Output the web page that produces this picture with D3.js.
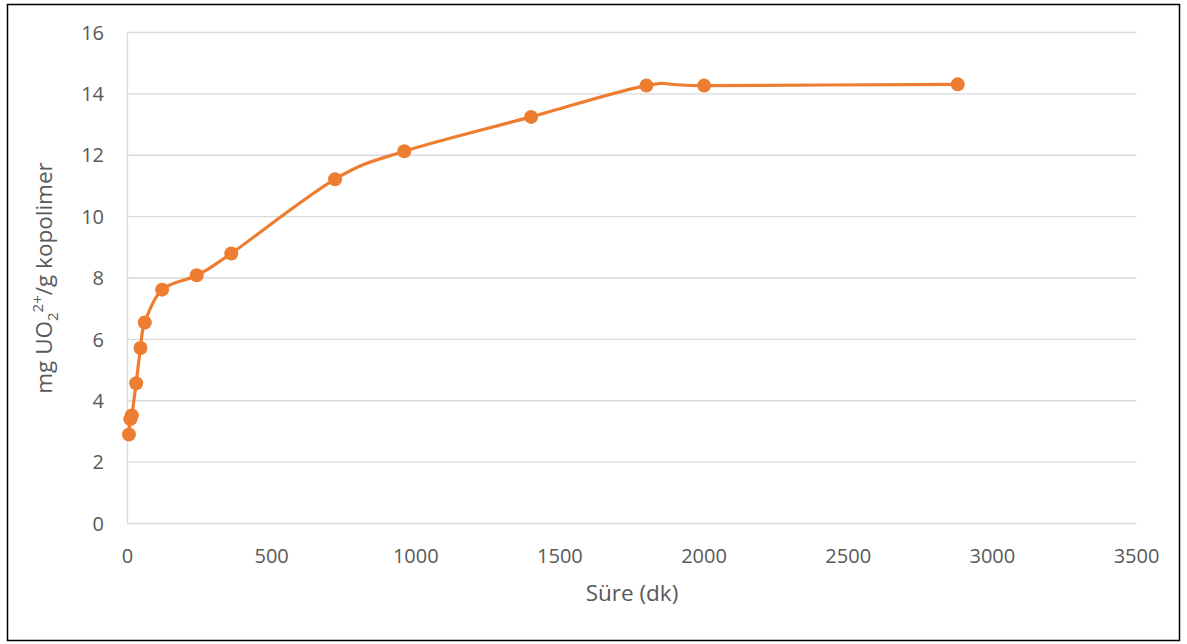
<!DOCTYPE html>
<html><head><meta charset="utf-8">
<script src="https://cdn.jsdelivr.net/npm/d3@7"></script>
<style>body{margin:0;background:#fff}svg{display:block}</style>
</head><body>
<svg id="c" width="1187" height="644"></svg>
<script>
const times = [5, 10, 15, 30, 45, 60, 120, 240, 360, 720, 960, 1400, 1800, 2000, 2880];
const uptake = [2.90, 3.40, 3.52, 4.57, 5.72, 6.55, 7.62, 8.09, 8.80, 11.22, 12.13, 13.25, 14.27, 14.27, 14.31];
const xTicks = [0, 500, 1000, 1500, 2000, 2500, 3000, 3500];
const yTicks = [0, 2, 4, 6, 8, 10, 12, 14, 16];

const svg = d3.select('#c');
const font = "'Open Sans', 'Liberation Sans', sans-serif";
svg.append('rect').attr('x',7.5).attr('y',4.5).attr('width',1172).attr('height',636)
  .attr('fill','#fff').attr('stroke','#000').attr('stroke-width',1.5);

const x = d3.scaleLinear().domain([0,3500]).range([127.5,1136.5]);
const y = d3.scaleLinear().domain([0,16]).range([523.5,32.5]);

const g = svg.append('g');
g.selectAll('line.gy').data(yTicks).join('line').attr('class','gy')
  .attr('x1',x(0)).attr('x2',x(3500)).attr('y1',d=>y(d)).attr('y2',d=>y(d))
  .attr('stroke','#d9d9d9').attr('stroke-width',1.3);
g.append('line').attr('x1',x(0)).attr('x2',x(0)).attr('y1',y(0)).attr('y2',y(16))
  .attr('stroke','#d9d9d9').attr('stroke-width',1.3);

g.selectAll('text.ty').data(yTicks).join('text').attr('class','ty')
  .attr('x',104).attr('y',d=>y(d)).attr('dy','0.36em').attr('text-anchor','end')
  .attr('font-family',font).attr('font-size',20).attr('fill','#595959').text(d=>d);
g.selectAll('text.tx').data(xTicks).join('text').attr('class','tx')
  .attr('x',d=>x(d)).attr('y',563).attr('text-anchor','middle')
  .attr('font-family',font).attr('font-size',20).attr('fill','#595959').text(d=>d);

svg.append('text').attr('x',632).attr('y',601).attr('text-anchor','middle')
  .attr('font-family',font).attr('font-size',22.5).attr('fill','#595959').text('Süre (dk)');

const yl = svg.append('text').attr('transform','translate(52,278) rotate(-90)')
  .attr('text-anchor','middle').attr('font-family',font).attr('font-size',22.5).attr('fill','#595959');
yl.append('tspan').text('mg UO');
yl.append('tspan').attr('font-size',15).attr('dy',6).text('2');
yl.append('tspan').attr('font-size',15).attr('dy',-15).text('2+');
yl.append('tspan').attr('dy',9).text('/g kopolimer');

const pts = times.map((t,i)=>[t, uptake[i]]);
const line = d3.line().x(d=>x(d[0])).y(d=>y(d[1])).curve(d3.curveCardinal.tension(0));
svg.append('path').datum(pts).attr('d',line).attr('fill','none')
  .attr('stroke','#ed7d31').attr('stroke-width',3.2).attr('stroke-linejoin','round');
svg.selectAll('circle').data(pts).join('circle')
  .attr('cx',d=>x(d[0])).attr('cy',d=>y(d[1])).attr('r',7).attr('fill','#ed7d31');
</script>
</body></html>
